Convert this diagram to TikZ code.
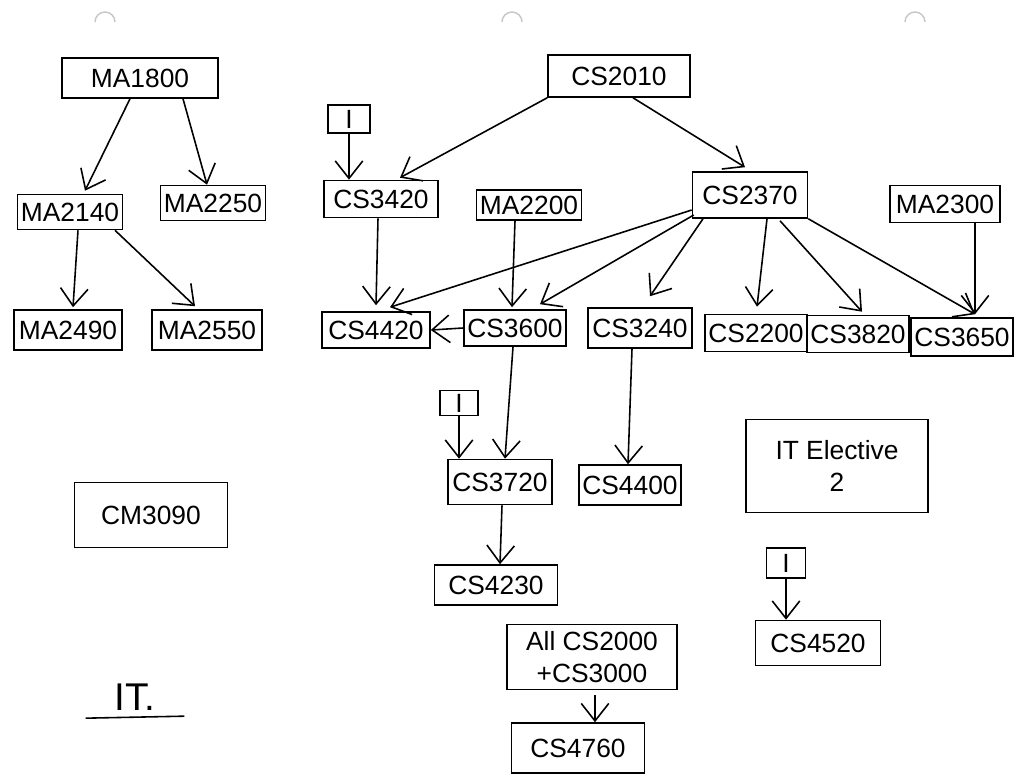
\documentclass[tikz,border=0pt]{standalone}
\usepackage{fontspec}
\setmainfont{Liberation Sans}
\usetikzlibrary{arrows.meta,calc}
\tikzset{
  bx/.style={draw, line width=0.9pt, inner sep=2pt, font=\fontsize{15}{18}\selectfont, align=center},
  sz/.style 2 args={minimum width={#1*0.02cm}, minimum height={#2*0.02cm}},
  ar/.style={line width=0.9pt, -{Straight Barb[length=3.5mm, width=5.5mm, line width=0.9pt]}},
  hole/.style={gray!45, line width=0.8pt}
}
\begin{document}
\begin{tikzpicture}[x=0.02cm, y=-0.02cm]
\path[use as bounding box, fill=white] (0,0) rectangle (1023,774);
% punch holes
\draw[hole] (95,22) arc[start angle=180, end angle=360, radius=10];
\draw[hole] (502,22) arc[start angle=180, end angle=360, radius=10];
\draw[hole] (905,22) arc[start angle=180, end angle=360, radius=10];

% left MA tree
\node[bx, sz={156}{40}] (ma1800) at (140,78) {MA1800};
\node[bx, sz={104}{35}] (ma2140) at (70,212) {MA2140};
\node[bx, sz={104}{35}] (ma2250) at (213,203) {MA2250};
\node[bx, sz={108}{40}] (ma2490) at (68,330) {MA2490};
\node[bx, sz={110}{40}] (ma2550) at (207,330) {MA2550};

% CS tree
\node[bx, sz={142}{42}] (cs2010) at (619,76) {CS2010};
\node[bx, sz={42}{28}] (i1) at (349,119) {I};
\node[bx, sz={114}{37}] (cs3420) at (381,199) {CS3420};
\node[bx, sz={102}{30}] (ma2200) at (529,205) {MA2200};
\node[bx, sz={115}{46}] (cs2370) at (750,195) {CS2370};
\node[bx, sz={110}{37}] (ma2300) at (945,204) {MA2300};
\node[bx, sz={108}{36}] (cs4420) at (376,330) {CS4420};
\node[bx, sz={94}{36}] (cs3600) at (515,328) {CS3600};
\node[bx, sz={104}{40}] (cs3240) at (640,328) {CS3240};
\node[bx, sz={83}{37}] (cs2200) at (756,333) {CS2200};
\node[bx, sz={80}{37}] (cs3820) at (858,334) {CS3820};
\node[bx, sz={99}{38}] (cs3650) at (962,337) {CS3650};
\node[bx, sz={38}{25}] (i2) at (459,403) {I};
\node[bx, sz={104}{45}] (cs3720) at (500,482) {CS3720};
\node[bx, sz={100}{40}] (cs4400) at (630,485) {CS4400};
\node[bx, sz={123}{40}] (cs4230) at (496,585) {CS4230};
\node[bx, sz={182}{93}] (ite) at (837,466) {IT Elective\\2};
\node[bx, sz={39}{30}] (i3) at (786,563) {I};
\node[bx, sz={125}{45}] (cs4520) at (818,643) {CS4520};
\node[bx, sz={153}{65}] (cm3090) at (151,515) {CM3090};
\node[bx, sz={170}{65}] (all) at (592,657) {All CS2000\\+CS3000};
\node[bx, sz={133}{50}] (cs4760) at (578,748) {CS4760};
\node[font=\fontsize{22}{26}\selectfont, inner sep=2pt] (it) at (135,697) {IT.};
\draw[line width=0.9pt] ($(it.south west)+(-25,4)$) -- ($(it.south east)+(25,2)$);

% MA connectors
\draw[ar] ($(ma1800.south)+(-10,0)$) -- ($(ma2140.north)+(15,-3)$);
\draw[ar] ($(ma1800.south)+(43,0)$) -- ($(ma2250.north)+(-6,0)$);
\draw[ar] ($(ma2140.south)+(8,0)$) -- ($(ma2490.north)+(5,-2)$);
\draw[ar] ($(ma2140.south)+(45,0)$) -- ($(ma2550.north)+(-12,-3)$);

% CS connectors
\draw[ar] (cs2010.south west) -- ($(cs3420.north)+(19,-2)$);
\draw[ar] ($(cs2010.south)+(14,0)$) -- ($(cs2370.north)+(-5,-4)$);
\draw[ar] (i1.south) -- (i1.south |- cs3420.north);
\draw[ar] ($(cs3420.south)+(-3,0)$) -- ($(cs4420.north)+(0,-6)$);
\draw[ar] ($(cs2370.west)+(0,15)$) -- ($(cs4420.north)+(14,-4)$);
\draw[ar] ($(cs2370.west)+(2,20)$) -- ($(cs3600.north)+(25,-5)$);
\draw[ar] ($(cs2370.south)+(-47,0)$) -- ($(cs3240.north)+(10,-11)$);
\draw[ar] ($(cs2370.south)+(17,0)$) -- ($(cs2200.north)+(1,-7)$);
\draw[ar] ($(cs2370.south)+(30,2)$) -- ($(cs3820.north)+(4,-3)$);
\draw[ar] (cs2370.south east) -- ($(cs3650.north)+(13,-3)$);
\draw[ar] ($(ma2300.south)+(30,0)$) -- ($(cs3650.north)+(13,-3)$);
\draw[ar] ($(ma2200.south)+(-14,0)$) -- ($(cs3600.north)+(-3,-2)$);
\draw[ar] (cs3600.west) -- (cs4420.east);
\draw[ar] ($(cs3600.south)+(-2,0)$) -- ($(cs3720.north)+(5,0)$);
\draw[ar] (i2.south) -- (i2.south |- cs3720.north);
\draw[ar] ($(cs3240.south)+(-8,0)$) -- ($(cs4400.north)+(-2,0)$);
\draw[ar] ($(cs3720.south)+(2,0)$) -- ($(cs4230.north)+(4,0)$);
\draw[ar] (i3.south) -- (i3.south |- cs4520.north);
\draw[ar] ($(all.south)+(3,5)$) -- ($(cs4760.north)+(17,0)$);
\end{tikzpicture}
\end{document}
